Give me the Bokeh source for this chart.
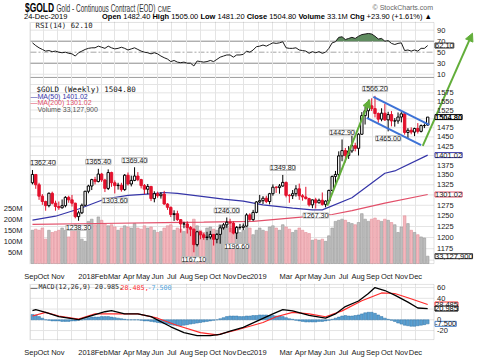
import numpy as np
import pandas as pd
from bokeh.plotting import figure
from bokeh.layouts import column
from bokeh.models import (ColumnDataSource, Range1d, LinearAxis, LinearScale, FixedTicker, Label,
                          Arrow, NormalHead, Div, PrintfTickFormatter, BoxAnnotation)
from bokeh.embed import file_html
from bokeh.resources import INLINE

# ---------------------------------------------------------------- data
week_ending = pd.date_range("2017-09-08", periods=121, freq="7D")

opens = [1330, 1351, 1325, 1297, 1284, 1274, 1304, 1280, 1272, 1269,
         1274, 1294, 1288, 1280, 1248, 1257, 1275, 1309, 1322, 1338,
         1333, 1352, 1337, 1316, 1356, 1330, 1323, 1324, 1313, 1349,
         1327, 1336, 1347, 1338, 1323, 1314, 1321, 1291, 1303, 1298,
         1302, 1278, 1270, 1253, 1255, 1241, 1231, 1231, 1223, 1219,
         1184, 1213, 1206, 1200, 1201, 1207, 1196, 1207, 1222, 1229,
         1235, 1233, 1210, 1223, 1223, 1226, 1252, 1241, 1258, 1283,
         1286, 1292, 1284, 1303, 1319, 1318, 1322, 1331, 1299, 1298,
         1303, 1315, 1298, 1295, 1291, 1276, 1288, 1281, 1287, 1277,
         1285, 1311, 1346, 1351, 1399, 1413, 1400, 1412, 1426, 1419,
         1457, 1509, 1523, 1537, 1529, 1515, 1499, 1516, 1497, 1512,
         1494, 1494, 1505, 1514, 1462, 1468, 1463, 1473, 1465, 1481,
         1482.4]
highs = [1362.4, 1352, 1330, 1302, 1286, 1306, 1308, 1286, 1284, 1289,
         1297, 1298, 1300, 1281, 1262, 1279, 1310, 1325, 1340, 1345,
         1365.4, 1355, 1340, 1364, 1358, 1336, 1330, 1330, 1352, 1356,
         1348, 1369.4, 1357, 1340, 1327, 1327, 1321, 1309, 1308, 1307,
         1310, 1280, 1272, 1263, 1262, 1242, 1236, 1237, 1226, 1220,
         1215, 1215, 1210, 1213, 1215, 1208, 1210, 1228, 1233, 1246,
         1243, 1237, 1226, 1231, 1232, 1256, 1256, 1264, 1285, 1300,
         1297, 1298, 1305, 1326, 1322, 1327, 1349.8, 1333, 1302, 1312,
         1324, 1328, 1302, 1320, 1293, 1289, 1293, 1291, 1306, 1287,
         1313, 1348, 1360, 1411, 1442.9, 1420, 1425, 1453, 1434, 1460,
         1519, 1535, 1555, 1559, 1566.2, 1518, 1530, 1543, 1520, 1522,
         1502, 1518, 1519, 1516, 1474, 1476, 1475, 1488, 1484, 1487,
         1505]
lows = [1326, 1315, 1288, 1276, 1262, 1270, 1277, 1262, 1264, 1267,
        1270, 1281, 1272, 1244, 1238.3, 1254, 1274, 1304, 1312, 1326,
        1331, 1332, 1307, 1312, 1320, 1303.6, 1313, 1308, 1310, 1323,
        1321, 1334, 1334, 1316, 1302, 1302, 1285, 1282, 1293, 1291,
        1276, 1264, 1247, 1238, 1238, 1211, 1221, 1209, 1203, 1167.1,
        1180, 1196, 1195, 1194, 1196, 1182, 1187, 1186, 1218, 1222,
        1212, 1207, 1196.6, 1218, 1217, 1225, 1238, 1238, 1256, 1280,
        1278, 1280, 1277, 1298, 1305, 1303, 1320, 1294, 1281, 1290,
        1296, 1288, 1286, 1289, 1272, 1268, 1267.3, 1279, 1274, 1270,
        1279, 1311, 1322, 1339, 1385, 1382, 1391, 1407, 1411, 1400,
        1456, 1484, 1500, 1522, 1504, 1489, 1493, 1494, 1465, 1479,
        1478, 1486, 1490, 1456, 1446, 1457, 1452, 1459, 1462, 1474,
        1481.2]
closes = [1351, 1325, 1297, 1284, 1274, 1304, 1280, 1272, 1269, 1274,
          1294, 1288, 1280, 1248, 1257, 1275, 1309, 1322, 1338, 1333,
          1352, 1337, 1316, 1356, 1330, 1323, 1324, 1313, 1349, 1327,
          1336, 1347, 1338, 1323, 1314, 1321, 1291, 1303, 1298, 1302,
          1278, 1270, 1253, 1255, 1241, 1231, 1231, 1223, 1219, 1184,
          1213, 1206, 1200, 1201, 1207, 1196, 1207, 1222, 1229, 1235,
          1233, 1210, 1223, 1223, 1226, 1252, 1241, 1258, 1283, 1286,
          1292, 1284, 1303, 1319, 1318, 1322, 1331, 1299, 1298, 1303,
          1315, 1298, 1295, 1291, 1276, 1288, 1281, 1287, 1277, 1285,
          1311, 1346, 1351, 1399, 1413, 1400, 1412, 1426, 1419, 1457,
          1509, 1523, 1537, 1529, 1515, 1499, 1516, 1497, 1512, 1494,
          1494, 1505, 1514, 1462, 1468, 1463, 1473, 1465, 1481, 1481,
          1504.8]
volume_m = [150, 155, 150, 160, 110, 150, 140, 145, 150, 160,
            150, 120, 165, 175, 170, 110, 100, 190, 200, 175,
            210, 195, 180, 170, 175, 165, 150, 160, 170, 165,
            160, 180, 160, 155, 170, 160, 165, 150, 140, 145,
            160, 170, 175, 150, 160, 155, 145, 165, 160, 200,
            170, 150, 140, 160, 165, 155, 150, 175, 165, 170,
            160, 150, 165, 140, 150, 165, 160, 130, 150, 160,
            150, 145, 165, 170, 160, 150, 175, 165, 155, 140,
            150, 160, 150, 140, 135, 105, 110, 105, 110, 100,
            125, 160, 190, 195, 200, 195, 185, 180, 175, 185,
            225, 200, 190, 200, 205, 195, 190, 200, 195, 185,
            175, 140, 165, 215, 180, 150, 140, 130, 120, 115,
            33.1279]
rsi14 = [67, 62, 58, 55, 52, 53, 51, 52, 50, 49,
         50, 48, 47, 43, 49, 52, 55, 57, 58, 58,
         61, 59, 57, 61, 58, 56, 57, 59, 57, 54,
         56, 58, 55, 52, 50, 49, 47, 49, 47, 43,
         40, 37.5, 33, 35, 32, 31, 32, 30, 30, 25,
         34, 33, 32, 33, 35, 33, 37, 41, 43, 45,
         45, 41, 45, 45, 46, 52, 50, 54, 60, 61,
         63, 61, 64, 67, 66, 67, 69, 58, 57, 57,
         58, 54, 53, 52, 48, 51, 49, 51, 48, 50,
         57, 67, 69, 77, 78, 73, 75, 77, 75, 79,
         82, 83, 84, 83, 79, 74, 75, 70, 71, 66,
         64, 66, 67, 53, 54, 52, 54, 52, 57, 57,
         62.1]
macd_hist = [10, 9, 6, 3, 0, -1, -2, -2, -2, -3,
             -3, -3, -2, -2, -1, 0, 2, 4, 5, 5,
             5, 6, 6, 6, 5, 4, 3, 2, 1, 0,
             0, 0, 0, -1, -2, -2, -3, -4, -5, -6,
             -7, -8, -9, -10, -11, -11, -10, -9, -8, -7,
             -6, -5, -4, -3, -2, -1, 0, 2, 4, 6,
             7, 7, 7, 6, 6, 7, 7, 8, 8, 9,
             9, 9, 8, 8, 7, 7, 6, 4, 2, 1,
             -1, -2, -3, -4, -4, -4, -4, -3, -3, -2,
             -1, 1, 3, 5, 7, 8, 7, 7, 8, 9,
             11, 13, 14, 14, 12, 9, 6, 3, 1, -1,
             -3, -6, -8, -10, -11, -12, -12, -11, -10, -9,
             -7.5]

ma50_week = [0, 7, 14, 22, 29, 37, 40, 44, 52, 58, 64, 70, 79, 85, 88, 97, 107, 110, 120]
ma50_value = [1240, 1249, 1266, 1290, 1299, 1303, 1306, 1304, 1296, 1290, 1285, 1276,
              1268, 1264, 1264, 1293, 1354, 1360, 1401.02]
ma200_week = [0, 20, 40, 52, 67, 79, 91, 97, 107, 120]
ma200_value = [1230, 1232, 1234, 1235, 1237, 1245, 1253, 1262, 1280, 1301.02]

macd_week = [0, 1, 4, 8, 14, 17, 22, 24, 28, 32, 36, 42, 46, 50, 54, 57, 60, 64, 69,
             73, 76, 79, 84, 89, 92, 95, 99, 102, 104, 107, 110, 114, 117, 120]
macd_value = [17, 19, 14, 6, 0.5, 6, 15, 17, 11, 11, 6, -13, -24, -29.6, -29.6, -27, -21,
              -14, 0, 11, 19, 16.6, 8.4, 3, 11, 24.7, 35, 49, 60, 54.5, 46, 33, 22, 20.985]
signal_week = [0, 4, 8, 14, 19, 25, 32, 38, 44, 51, 56, 62, 70, 74, 79, 84, 89, 94, 100,
               106, 110, 114, 120]
signal_value = [7, 13.8, 7, 1.3, 11, 11, 11, 3, -10.6, -24, -28, -19, -5, 5.7, 13.8, 11,
                5.7, 16.6, 35.4, 50, 49, 41, 28.485]

month_starts = pd.date_range("2017-09-01", "2019-12-01", freq="MS")
month_labels = ["Sep", "Oct", "Nov", "", "2018", "Feb", "Mar", "Apr", "May", "Jun", "Jul",
                "Aug", "Sep", "Oct", "Nov", "Dec", "2019", "", "Mar", "Apr", "May", "Jun",
                "Jul", "Aug", "Sep", "Oct", "Nov", "Dec"]

price_grid_ticks = [1150, 1175, 1200, 1225, 1250, 1275, 1300, 1325, 1350, 1375, 1400, 1425,
                    1450, 1475, 1500, 1525, 1550, 1575, 1600]
price_label_ticks = [1175, 1200, 1225, 1250, 1275, 1325, 1350, 1375, 1425, 1450, 1475,
                     1525, 1550, 1575]
rsi_ticks = [90, 70, 50, 30, 10]
volume_ticks = [50, 100, 150, 200, 250]
macd_grid_ticks = [-20, 0, 20, 40, 60]
macd_label_ticks = [-20, 0, 40, 60]

swing_week = [0, 14, 20, 25, 31, 49, 59, 62, 76, 86, 94, 104, 108]
swing_price = [1362.4, 1238.3, 1365.4, 1303.6, 1369.4, 1167.1, 1246.0, 1196.6, 1349.8,
               1267.3, 1442.9, 1566.2, 1465.0]
swing_side = ["high", "low", "high", "low", "high", "low", "high", "low", "high", "low",
              "high", "high", "low"]

channel_upper_week = [103.5, 120.5]
channel_upper_price = [1563, 1483]
channel_lower_week = [101.5, 118.0]
channel_lower_price = [1502.5, 1427.4]
trend1_week = [89.5, 102.4]
trend1_price = [1274, 1555]
trend2_week = [118.5, 133.6]
trend2_price = [1425.5, 1762]

# ---------------------------------------------------------------- style / geometry
FONT = "Liberation Sans"
MONO = "DejaVu Sans Mono"
RED = "#e3112d"
BLACK = "#000000"
PINK, PINK_LINE = "#f3b7bd", "#e3909a"
GRAY, GRAY_LINE = "#bdbdbd", "#9a9a9a"
BLUE_MA = "#3535a8"
RED_MA = "#e2506a"
GREEN = "#62ae3a"
CHAN = "#3d72d6"
GRID = "#e4e4e4"
FRAME = "#9c9c9c"
HIST = "#5aa0d2"
HIST_LINE = "#2f73a6"
WEEK_MS = 7 * 24 * 3600 * 1000
T0 = week_ending[0]


def at_week(w):
    return T0 + pd.Timedelta(days=7 * w)


def ms(ts):
    return pd.Timestamp(ts).value / 1e6


# pixel calibration of the reference panels (page pixels)
def px_week(x):
    return (x - 27) / 3.33


def px_price(y):
    return 1575 * np.exp((95 - y) / 551.6)


def px_rsi(y):
    return 90 - (y - 30) / 0.571


def px_vol(y):
    return (272 - y) / 0.23


def px_macd(y):
    return (324.4 - y) / 0.6125


XL = ms(at_week(px_week(25)))      # panel left edge
XR = ms(at_week(px_week(433)))     # panel right edge
xr = Range1d(start=at_week(px_week(24)), end=at_week(px_week(480)))

F1_TOP, F1_BOT = 21, 273
F2_TOP, F2_BOT = 283, 348
PRICE_PANEL_TOP = px_price(79)

month_ms = [int(m.value // 10**6) for m in month_starts]
axis_ticks = [ms(at_week(px_week(25.5)))] + month_ms[1:]

# ---------------------------------------------------------------- derived table
df = pd.DataFrame(dict(date=week_ending, open=opens, high=highs, low=lows, close=closes,
                       vol=volume_m, rsi=rsi14, hist=macd_hist))
down = df["close"] < df["close"].shift(1)
df["color"] = np.where(down, RED, BLACK)
df["fill"] = np.where(df["close"] < df["open"], df["color"], "white")
df["top"] = df[["open", "close"]].max(axis=1)
df["bottom"] = df[["open", "close"]].min(axis=1)
df["vcolor"] = np.where(down, PINK, GRAY)
df["vline"] = np.where(down, PINK_LINE, GRAY_LINE)
df["rsi_hi"] = np.maximum(df["rsi"], 70)
df["base70"] = 70
src = ColumnDataSource(df)


def style_xaxis(fig):
    ax = fig.xaxis[0]
    ax.ticker = FixedTicker(ticks=axis_ticks)
    ax.major_label_overrides = {t: lab for t, lab in zip(axis_ticks, month_labels)}
    ax.major_tick_line_color = None
    ax.minor_tick_line_color = None
    ax.axis_line_color = None
    ax.major_label_standoff = 1
    ax.major_label_text_font = FONT
    ax.major_label_text_font_size = "7.5px"
    ax.major_label_text_color = "#1a1a1a"
    fig.xgrid[0].ticker = FixedTicker(ticks=month_ms)
    fig.xgrid[0].grid_line_color = GRID
    fig.ygrid[0].visible = False
    fig.outline_line_color = None
    fig.border_fill_color = "white"


def hlines(fig, values, color, rng=None, dash="solid", width=1):
    kw = dict(y_range_name=rng) if rng else {}
    fig.segment(x0=[XL] * len(values), x1=[XR] * len(values), y0=values, y1=values,
                line_color=color, line_width=width, line_dash=dash, level="underlay", **kw)


def text(fig, x, y, txt, color="#222222", size="7.5px", font=FONT, rng=None, align="left",
         xoff=0, yoff=0, bold=False, box=None):
    kw = dict(y_range_name=rng) if rng else {}
    if box is not None:
        kw.update(background_fill_color="white", border_line_color=box, border_line_width=1)
    fig.add_layout(Label(x=x, y=y, x_offset=xoff, y_offset=yoff, text=txt, text_align=align,
                         text_baseline="middle", text_font=font, text_font_size=size,
                         text_font_style="bold" if bold else "normal", text_color=color, **kw))


# ---------------------------------------------------------------- price + RSI figure
p = figure(width=480, height=262, x_axis_type="datetime", y_axis_type="log", x_range=xr,
           y_range=Range1d(px_price(F1_BOT), px_price(F1_TOP)), y_axis_location=None,
           output_backend="svg", toolbar_location=None,
           min_border_left=24, min_border_right=0, min_border_top=0, min_border_bottom=10)
p.extra_y_ranges = {"rsi": Range1d(px_rsi(F1_BOT), px_rsi(F1_TOP)),
                    "vol": Range1d(px_vol(F1_BOT), px_vol(F1_TOP))}
p.extra_y_scales = {"rsi": LinearScale(), "vol": LinearScale()}
style_xaxis(p)

va = LinearAxis(y_range_name="vol", ticker=FixedTicker(ticks=volume_ticks),
                formatter=PrintfTickFormatter(format="%dM"))
va.major_tick_line_color = None
va.minor_tick_line_color = None
va.axis_line_color = None
va.major_label_standoff = 1
va.major_label_text_font = FONT
va.major_label_text_font_size = "7.5px"
va.major_label_text_color = "#1a1a1a"
p.add_layout(va, "left")

# grid / panel frames
hlines(p, price_grid_ticks, GRID)
hlines(p, [90, 10], GRID, rng="rsi")
hlines(p, [70, 30], "#8c8c8c", rng="rsi")
hlines(p, [50], "#a5a5a5", rng="rsi", dash="6 2 2 2")
hlines(p, [PRICE_PANEL_TOP], FRAME)
p.add_layout(BoxAnnotation(left=XL, right=XR, bottom=px_price(272), top=px_price(22),
                           fill_alpha=0, line_color=FRAME, line_width=1))

# RSI
p.varea(x="date", y1="base70", y2="rsi_hi", source=src, fill_color="#5f8c5f",
        y_range_name="rsi")
p.line(x="date", y="rsi", source=src, line_color="#1a1a1a", line_width=1, y_range_name="rsi")

# volume
p.vbar(x="date", top="vol", bottom=0, width=0.8 * WEEK_MS, source=src, fill_color="vcolor",
       line_color="vline", line_width=0.6, y_range_name="vol")

# moving averages
p.line(x=week_ending[ma200_week], y=ma200_value, line_color=RED_MA, line_width=1.2)
p.line(x=week_ending[ma50_week], y=ma50_value, line_color=BLUE_MA, line_width=1.2)

# candles
p.segment(x0="date", y0="high", x1="date", y1="low", source=src, line_color="color",
          line_width=1)
p.vbar(x="date", top="top", bottom="bottom", width=0.72 * WEEK_MS, source=src,
       fill_color="fill", line_color="color", line_width=1)

# channel + trend arrows
p.line(x=[at_week(w) for w in channel_upper_week], y=channel_upper_price, line_color=CHAN,
       line_width=2)
p.line(x=[at_week(w) for w in channel_lower_week], y=channel_lower_price, line_color=CHAN,
       line_width=2)
for tw, tp in ((trend1_week, trend1_price), (trend2_week, trend2_price)):
    p.add_layout(Arrow(end=NormalHead(size=8, fill_color=GREEN, line_color=GREEN),
                       x_start=ms(at_week(tw[0])), y_start=tp[0],
                       x_end=ms(at_week(tw[1])), y_end=tp[1],
                       line_color=GREEN, line_width=2))

# swing labels
for w, pr, side in zip(swing_week, swing_price, swing_side):
    text(p, ms(week_ending[w]), pr, f"{pr:.2f}", size="7px", align="center",
         xoff=10.5 if w == 0 else 0, yoff=7 if side == "high" else -7, box="#b5b5b5")

# right-hand scale labels
for v in price_label_ticks:
    text(p, XR, v, str(v), xoff=3)
for v in rsi_ticks:
    text(p, XR, v, str(v), xoff=3, rng="rsi")

# legends
text(p, XL, px_price(25.5), "RSI(14) 62.10", font=MONO, size="7.3px", xoff=5)
text(p, XL, px_price(91), "$GOLD (Weekly) 1504.80", "#111111", font=MONO, xoff=6)
text(p, XL, px_price(98.3), "\u2014", BLUE_MA, size="7px")
text(p, XL, px_price(98.3), "MA(50) 1401.02", BLUE_MA, size="7px", xoff=7)
text(p, XL, px_price(105), "\u2014", RED_MA, size="7px")
text(p, XL, px_price(105), "MA(200) 1301.02", RED_MA, size="7px", xoff=7)
text(p, XL, px_price(112.7), "Volume 33,127,900", "#555555", size="7px", xoff=7)

# tags
text(p, XR, 62.10, "62.10", "#111111", rng="rsi", xoff=1, box="#333333")
text(p, XR, 1504.80, "1504.80", "#000000", xoff=1, bold=True, box="#000000")
text(p, XR, 1401.02, "1401.02", "#222222", xoff=1, box=BLUE_MA)
text(p, XR, 1301.02, "1301.02", "#222222", xoff=1, box=RED_MA)
text(p, XR, 33.1279, "33,127,900", "#111111", rng="vol", xoff=1, box="#333333")

# ---------------------------------------------------------------- MACD figure
m = figure(width=480, height=76, x_axis_type="datetime", x_range=xr,
           y_range=Range1d(px_macd(F2_BOT), px_macd(F2_TOP)), y_axis_location=None,
           output_backend="svg", toolbar_location=None,
           min_border_left=24, min_border_right=0, min_border_top=0, min_border_bottom=11)
style_xaxis(m)
hlines(m, macd_grid_ticks, GRID)
m.add_layout(BoxAnnotation(left=XL, right=XR, bottom=px_macd(347), top=px_macd(284),
                           fill_alpha=0, line_color=FRAME, line_width=1))

m.vbar(x="date", top="hist", bottom=0, width=0.85 * WEEK_MS, source=src, fill_color=HIST,
       line_color=HIST_LINE, line_width=0.5)
m.line(x=week_ending[signal_week], y=signal_value, line_color="#ff2b2b", line_width=1.2)
m.line(x=week_ending[macd_week], y=macd_value, line_color="#000000", line_width=1.3)

for v in macd_label_ticks:
    text(m, XR, v, str(v), xoff=3)

text(m, XL, px_macd(287), "\u2014", "#000000", size="7px")
text(m, XL, px_macd(287), "MACD(12,26,9) 20.985,", "#222222", font=MONO, size="6.7px", xoff=8)
text(m, XL, px_macd(287), "28.485,", "#ff2b2b", font=MONO, size="6.7px", xoff=90)
text(m, XL, px_macd(287), "-7.500", "#4aa3dc", font=MONO, size="6.7px", xoff=117)

text(m, XR, 28.485, "28.485", "#222222", xoff=1, box="#ff2b2b")
text(m, XR, 20.985, "20.985", "#000000", xoff=1, box="#000000")
text(m, XR, -7.5, "-7.500", "#222222", xoff=1, box="#4a80c8")

# ---------------------------------------------------------------- header
header_html = (
    "<div style=\"position:relative;width:480px;height:21px;"
    "font-family:'Liberation Sans',Arial,sans-serif;color:#000;\">"
    "<div style=\"position:absolute;left:25px;top:3.3px;white-space:nowrap;font-size:13px;"
    "line-height:9px;transform:scaleX(0.65);transform-origin:0 0;\">"
    "<span style=\"font-size:13px;font-weight:bold;\">$GOLD</span> "
    "<span style=\"font-size:10px;color:#333;\">Gold - Continuous Contract (EOD)</span> "
    "<span style=\"font-size:9px;color:#333;\">CME</span></div>"
    "<div style=\"position:absolute;right:47px;top:4px;white-space:nowrap;font-size:7px;"
    "line-height:7px;color:#666;\">&copy; StockCharts.com</div>"
    "<div style=\"position:absolute;left:24px;top:14.4px;white-space:nowrap;font-size:7.5px;"
    "line-height:6px;\">24-Dec-2019</div>"
    "<div style=\"position:absolute;right:48px;top:14.4px;white-space:nowrap;font-size:7.5px;"
    "line-height:6px;\"><b>Open</b> 1482.40 <b>High</b> 1505.00 <b>Low</b> 1481.20 "
    "<b>Close</b> 1504.80 <b>Volume</b> 33.1M <b>Chg</b> +23.90 (+1.61%) &#9650;</div>"
    "</div>")
header = Div(text=header_html, width=480, height=21, margin=0, styles={"overflow": "visible"})

layout = column(header, p, m, spacing=0)
open("out.html", "w").write(file_html(layout, INLINE, title="$GOLD"))
